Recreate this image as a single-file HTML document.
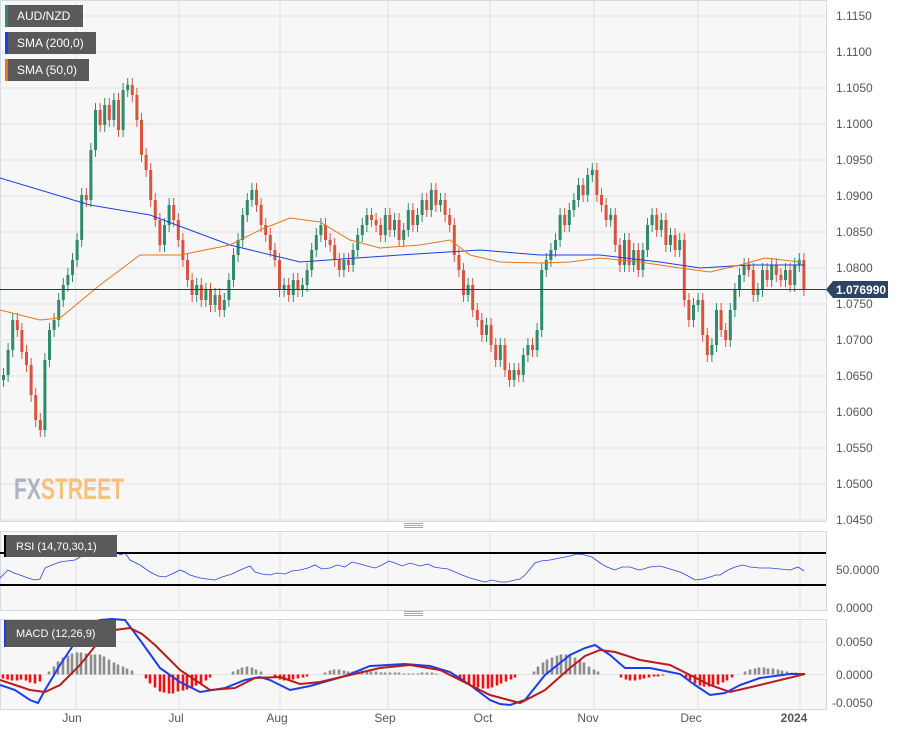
<!DOCTYPE html>
<html><head><meta charset="utf-8"><style>
html,body{margin:0;padding:0;background:#fff;width:898px;height:731px;overflow:hidden;font-family:"Liberation Sans",sans-serif}
svg{display:block}
</style></head><body>
<svg width="898" height="731" xmlns="http://www.w3.org/2000/svg" font-family="Liberation Sans, sans-serif">
<defs>
<marker id="wg" markerWidth="4" markerHeight="14" refX="2" refY="7" markerUnits="userSpaceOnUse" overflow="visible"><line x1="2" y1="0" x2="2" y2="14" stroke="#2f8a6e" stroke-width="1"/></marker>
<marker id="wr" markerWidth="4" markerHeight="14" refX="2" refY="7" markerUnits="userSpaceOnUse" overflow="visible"><line x1="2" y1="0" x2="2" y2="14" stroke="#d9543f" stroke-width="1"/></marker>
</defs>
<rect x="0.5" y="0.5" width="826" height="521" fill="#f7f7f7" stroke="#d3dae6"/>
<rect x="0.5" y="531.5" width="826" height="79" fill="#f7f7f7" stroke="#d3dae6"/>
<rect x="0.5" y="619.5" width="826" height="90" fill="#f7f7f7" stroke="#d3dae6"/>
<g stroke="#e2e2e2">
<path d="M76 0V521M179 0V521M280 0V521M388 0V521M490 0V521M594 0V521M698 0V521M800 0V521"/>
<path d="M76 532V610M179 532V610M280 532V610M388 532V610M490 532V610M594 532V610M698 532V610M800 532V610"/>
<path d="M76 620V709M179 620V709M280 620V709M388 620V709M490 620V709M594 620V709M698 620V709M800 620V709"/>
<path d="M0 16H826M0 52H826M0 88H826M0 124H826M0 160H826M0 196H826M0 232H826M0 268H826M0 304H826M0 340H826M0 376H826M0 412H826M0 448H826M0 484H826M0 520H826M0 642H826M0 674.5H826"/>
</g>
<g font-size="12" fill="#555">
<text x="836" y="20">1.1150</text><text x="836" y="56">1.1100</text><text x="836" y="92">1.1050</text><text x="836" y="128">1.1000</text><text x="836" y="164">1.0950</text><text x="836" y="200">1.0900</text><text x="836" y="236">1.0850</text><text x="836" y="272">1.0800</text><text x="836" y="308">1.0750</text><text x="836" y="344">1.0700</text><text x="836" y="380">1.0650</text><text x="836" y="416">1.0600</text><text x="836" y="452">1.0550</text><text x="836" y="488">1.0500</text><text x="836" y="524">1.0450</text>
<text x="836" y="574">50.0000</text><text x="836" y="612">0.0000</text>
<text x="836" y="646">0.0050</text><text x="836" y="679">0.0000</text><text x="832" y="707">-0.0050</text>
</g>
<g stroke="#888" stroke-width="0.8"><path d="M404 523.5H423M404 525.5H423M404 527.5H423M404 611.5H423M404 613.5H423M404 615.5H423"/></g>
<text x="14" y="499" font-size="30" font-weight="bold" fill="#9aa5b5" opacity="0.8" textLength="110" lengthAdjust="spacingAndGlyphs">FX<tspan fill="#f3b562">STREET</tspan></text>

<path stroke="#2f8a6e" stroke-width="3" fill="none" marker-start="url(#wg)" marker-mid="url(#wg)" marker-end="url(#wg)" d="M3.5 375V380M8.1 350V375M12.7 320V350M44.9 360V430M49.5 330V360M54.1 320V330M58.7 300V320M63.3 285V300M67.9 275V285M72.5 260V275M77.1 240V260M81.7 195V240M90.9 150V200M95.5 110V150M104.7 105V125M113.9 100V120M123.1 90V130M127.7 85V90M164.5 225V245M169.1 205V225M196.7 285V295M205.9 290V300M215.1 295V305M224.3 300V310M228.9 280V300M233.5 255V280M238.1 240V255M242.7 215V240M247.3 200V215M251.9 190V200M284.1 285V290M293.3 280V295M302.5 285V290M307.1 270V285M311.7 250V270M316.3 235V250M320.9 225V235M343.9 260V270M353.1 250V265M357.7 235V250M362.3 225V235M366.9 215V225M385.3 215V235M394.5 220V230M403.7 230V240M408.3 210V230M417.5 215V225M422.1 200V215M431.3 190V210M440.5 200V205M468.1 285V295M486.5 325V335M500.3 345V360M514.1 370V380M523.3 355V375M527.9 345V355M537.1 330V350M541.7 270V330M546.3 260V270M550.9 250V260M555.5 240V250M560.1 215V240M569.3 210V225M573.9 200V210M578.5 185V200M587.7 175V195M592.3 170V175M610.7 215V220M624.5 240V265M633.7 250V265M642.9 250V270M647.5 225V250M652.1 215V225M661.3 220V230M670.5 235V245M679.7 240V250M693.5 305V320M698.1 300V305M711.9 345V355M716.5 310V345M730.3 310V340M734.9 290V310M739.5 275V290M744.1 265V275M757.9 290V295M762.5 270V290M771.7 265V280M785.5 270V280M794.7 265V285M799.3 260V265"/>
<path stroke="#d9543f" stroke-width="3" fill="none" marker-start="url(#wr)" marker-mid="url(#wr)" marker-end="url(#wr)" d="M17.3 320V330M21.9 330V352M26.5 352V365M31.1 365V395M35.7 395V420M40.3 420V430M86.3 195V200M100.1 110V125M109.3 105V120M118.5 100V130M132.3 85V95M136.9 95V120M141.5 120V155M146.1 155V170M150.7 170V200M155.3 200V220M159.9 220V245M173.7 205V220M178.3 220V240M182.9 240V260M187.5 260V280M192.1 280V295M201.3 285V300M210.5 290V305M219.7 295V310M256.5 190V205M261.1 205V225M265.7 225V235M270.3 235V250M274.9 250V260M279.5 260V290M288.7 285V295M297.9 280V290M325.5 225V240M330.1 240V245M334.7 245V260M339.3 260V270M348.5 260V265M371.5 215V220M376.1 220V225M380.7 225V235M389.9 215V230M399.1 220V240M412.9 210V225M426.7 200V210M435.9 190V205M445.1 200V215M449.7 215V225M454.3 225V255M458.9 255V270M463.5 270V295M472.7 285V310M477.3 310V320M481.9 320V335M491.1 325V345M495.7 345V360M504.9 345V370M509.5 370V380M518.7 370V375M532.5 345V350M564.7 215V225M583.1 185V195M596.9 170V195M601.5 195V205M606.1 205V220M615.3 215V245M619.9 245V265M629.1 240V265M638.3 250V270M656.7 215V230M665.9 220V245M675.1 235V250M684.3 240V300M688.9 300V320M702.7 300V335M707.3 335V355M721.1 310V330M725.7 330V340M748.7 265V270M753.3 270V295M767.1 270V280M776.3 265V275M780.9 275V280M790.1 270V285M803.9 260V289"/>

<polyline fill="none" stroke="#1f3fe0" stroke-width="1" points="0,178 90,205 150,215 230,245 300,262 400,255 480,250 540,255 600,255 660,262 700,268 750,265 805,265"/>
<polyline fill="none" stroke="#e8751a" stroke-width="1" points="0,310 40,320 60,318 100,285 140,255 180,255 230,245 260,230 290,218 320,222 350,240 380,248 420,245 450,240 470,255 500,262 540,263 570,262 600,258 640,262 680,268 710,272 740,265 765,258 800,262"/>
<line x1="0" y1="289.5" x2="826" y2="289.5" stroke="#2b3b55"/>
<path d="M826 289.5 L833 281 L888 281 L888 298 L833 298 Z" fill="#2c4363"/>
<text x="836" y="294" font-size="12" font-weight="bold" fill="#fff">1.076990</text>

<rect x="5" y="5" width="78" height="22" fill="#5a5a5a"/><rect x="5" y="5" width="3" height="22" fill="#2f8a6e"/><text x="17" y="20" font-size="12" fill="#fff">AUD/NZD</text>
<rect x="5" y="32" width="91" height="22" fill="#5a5a5a"/><rect x="5" y="32" width="3" height="22" fill="#1f3fe0"/><text x="17" y="47" font-size="12" fill="#fff">SMA (200,0)</text>
<rect x="5" y="59" width="84" height="22" fill="#5a5a5a"/><rect x="5" y="59" width="3" height="22" fill="#e8751a"/><text x="17" y="74" font-size="12" fill="#fff">SMA (50,0)</text>

<polyline fill="none" stroke="#2a45e0" stroke-width="0.8" points="0,578 4,574 8,570 14,573 20,575 28,578 35,580 40,579 45,568 52,565 60,562 67,561 75,560 82,556 90,550 96,551 103,549 110,552 115,550 120,555 125,553 130,560 140,565 150,572 158,576 165,577 172,574 180,570 185,572 190,575 200,578 207,579 215,580 222,577 232,574 238,571 245,568 250,566 255,572 262,574 270,575 277,573 285,574 292,571 300,570 308,568 315,565 322,569 330,568 337,565 345,567 352,562 360,564 367,566 375,568 382,565 389,561 395,563 402,566 410,563 420,566 428,564 434,567 440,568 448,569 455,572 462,575 470,578 477,580 485,582 492,580 500,582 507,582 515,580 520,579 525,575 530,569 535,563 541,561 550,560 560,558 570,556 577,554 585,555 592,557 600,563 607,567 615,570 622,567 630,567 636,569 640,570 650,567 660,566 670,569 680,572 688,576 695,580 703,579 710,577 716,575 720,575 728,570 735,567 743,565 750,567 760,568 770,568 780,569 790,570 798,567 804,571"/>
<line x1="0" y1="553" x2="826" y2="553" stroke="#000" stroke-width="2"/>
<line x1="0" y1="585" x2="826" y2="585" stroke="#000" stroke-width="2"/>
<rect x="4" y="535" width="113" height="22" fill="#5a5a5a"/><rect x="4" y="535" width="2" height="22" fill="#000"/><text x="16" y="550" font-size="11" fill="#fff">RSI (14,70,30,1)</text>

<path stroke="#f01010" stroke-width="2.6" fill="none" d="M3 674.5V678.5M7.6 674.5V679.5M12 674.5V680.5M17 674.5V680.5M21 674.5V679.5M26 674.5V680.5M30 674.5V682.5M35 674.5V683.5M40 674.5V681.5M146 674.5V678.5M150 674.5V683.5M155 674.5V687.5M160 674.5V691.5M164 674.5V692.5M169 674.5V693.5M173 674.5V693.5M178 674.5V691.5M183 674.5V690.5M187 674.5V689.5M192 674.5V687.5M196 674.5V685.5M201 674.5V683.5M206 674.5V680.5M210 674.5V677.5M275 674.5V677.5M280 674.5V679.5M284 674.5V680.5M289 674.5V680.5M293 674.5V679.5M298 674.5V678.5M303 674.5V677.5M307 674.5V676.5M455 674.5V676.5M460 674.5V679.5M464 674.5V682.5M469 674.5V684.5M474 674.5V686.5M478 674.5V687.5M483 674.5V688.5M488 674.5V688.5M492 674.5V687.5M497 674.5V685.5M501 674.5V683.5M506 674.5V681.5M511 674.5V679.5M515 674.5V677.5M621 674.5V677.5M626 674.5V679.5M630 674.5V680.5M635 674.5V680.5M640 674.5V679.5M644 674.5V678.5M649 674.5V677.5M654 674.5V676.5M658 674.5V676.5M663 674.5V675.5M686 674.5V677.5M690 674.5V680.5M695 674.5V683.5M700 674.5V685.5M704 674.5V686.5M709 674.5V686.5M713 674.5V685.5M718 674.5V684.5M723 674.5V682.5M727 674.5V680.5M732 674.5V677.5"/>
<path stroke="#8c8c8c" stroke-width="2.6" fill="none" d="M49 674.5V671.5M54 674.5V666.5M58 674.5V661.5M63 674.5V657.5M68 674.5V655.5M72 674.5V653.5M77 674.5V652.5M81 674.5V652.5M86 674.5V653.5M91 674.5V654.5M95 674.5V654.5M100 674.5V654.5M104 674.5V656.5M109 674.5V659.5M114 674.5V662.5M118 674.5V664.5M123 674.5V666.5M127 674.5V668.5M132 674.5V670.5M233 674.5V671.5M238 674.5V669.5M242 674.5V667.5M247 674.5V666.5M252 674.5V667.5M256 674.5V669.5M261 674.5V671.5M325 674.5V672.5M330 674.5V670.5M334 674.5V669.5M339 674.5V669.5M344 674.5V670.5M348 674.5V671.5M353 674.5V671.5M358 674.5V671.5M362 674.5V670.5M367 674.5V670.5M371 674.5V671.5M376 674.5V671.5M381 674.5V672.5M385 674.5V672.5M390 674.5V672.5M395 674.5V672.5M399 674.5V672.5M404 674.5V673.5M409 674.5V673.5M413 674.5V673.5M418 674.5V673.5M422 674.5V672.5M427 674.5V672.5M432 674.5V672.5M436 674.5V673.5M534 674.5V671.5M538 674.5V666.5M543 674.5V662.5M547 674.5V659.5M552 674.5V657.5M557 674.5V655.5M561 674.5V654.5M566 674.5V654.5M570 674.5V655.5M575 674.5V657.5M580 674.5V659.5M584 674.5V662.5M589 674.5V666.5M594 674.5V669.5M598 674.5V671.5M745 674.5V671.5M750 674.5V669.5M755 674.5V668.5M759 674.5V667.5M764 674.5V667.5M768 674.5V668.5M773 674.5V668.5M778 674.5V669.5M782 674.5V670.5M787 674.5V671.5M792 674.5V672.5M796 674.5V672.5M801 674.5V673.5"/>
<polyline fill="none" stroke="#1a3fe8" stroke-width="2" points="0,685 15,690 30,700 38,703 45,690 60,665 80,635 90,625 100,620 112,619 125,620 140,640 160,668 180,682 200,692 225,688 245,680 260,677 270,680 290,690 310,686 345,676 370,666 405,664 430,666 450,672 470,685 490,700 500,704 510,705 525,700 545,675 570,655 585,648 595,645 610,655 625,668 650,668 680,674 695,685 710,695 725,693 740,685 760,678 790,674 805,674"/>
<polyline fill="none" stroke="#b81c1c" stroke-width="2" points="0,680 30,690 45,692 60,685 80,665 100,640 115,630 130,628 142,634 155,645 180,670 210,690 235,688 255,678 280,677 300,684 320,682 350,675 380,668 410,665 440,670 460,680 490,695 520,703 545,690 570,668 585,656 600,650 615,652 640,660 670,665 690,675 710,685 730,692 760,685 805,674"/>
<rect x="4" y="620" width="112" height="27" fill="#5a5a5a"/><rect x="4" y="620" width="2" height="27" fill="#1a3fe8"/><text x="16" y="637" font-size="11" fill="#fff">MACD (12,26,9)</text>

<g font-size="12" fill="#555" text-anchor="middle">
<text x="72" y="722">Jun</text><text x="176" y="722">Jul</text><text x="277" y="722">Aug</text><text x="385" y="722">Sep</text><text x="483" y="722">Oct</text><text x="588" y="722">Nov</text><text x="691" y="722">Dec</text><text x="794" y="722" font-weight="bold">2024</text>
</g>
</svg>
</body></html>
